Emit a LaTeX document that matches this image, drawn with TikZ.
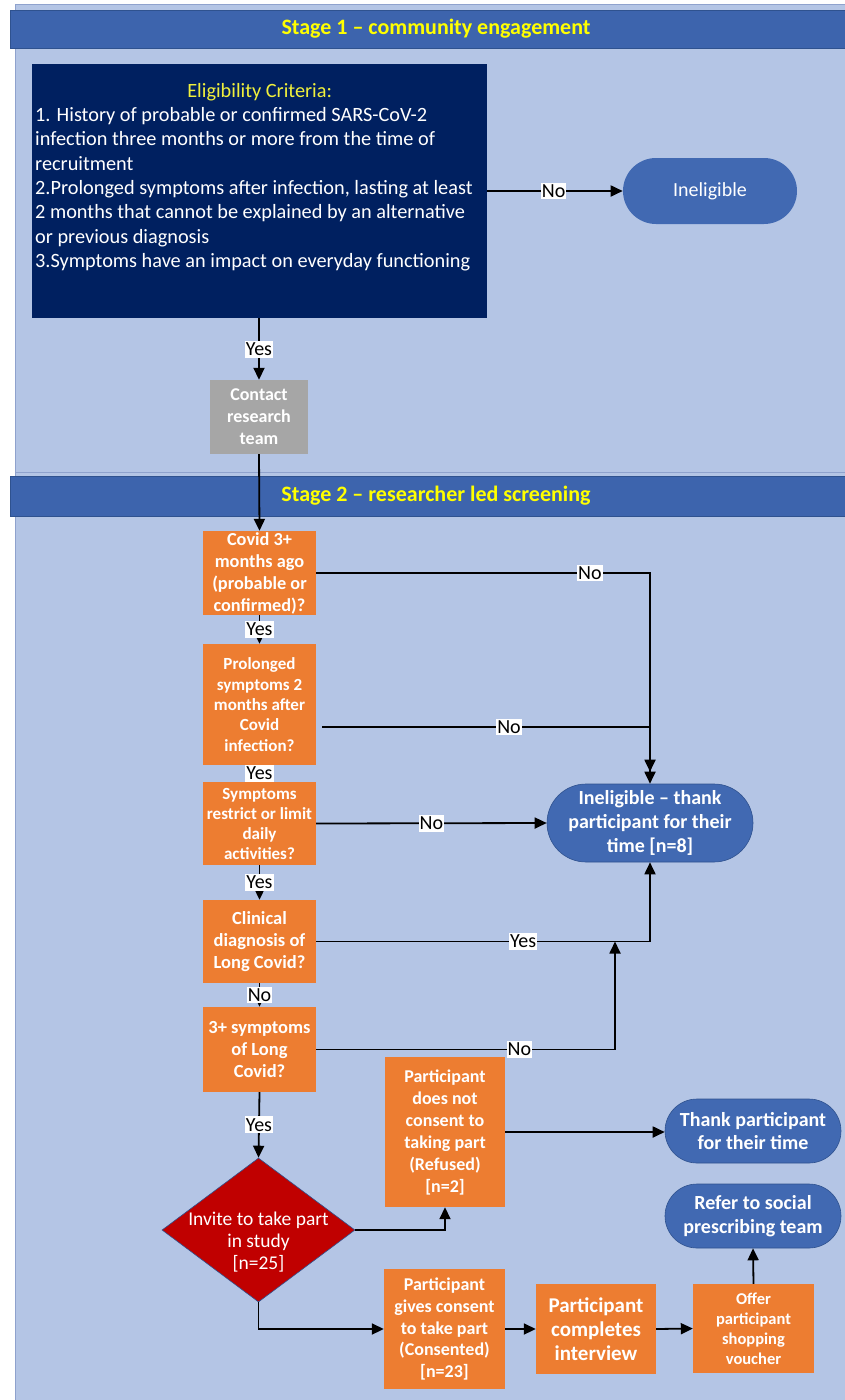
\documentclass[tikz,border=0pt]{standalone}
\usepackage{fontspec}
\setmainfont{Carlito}
\usetikzlibrary{shapes.geometric,arrows.meta}
\definecolor{panel}{HTML}{B4C5E5}
\definecolor{panelline}{HTML}{8FA2CD}
\definecolor{hdr}{HTML}{3D64AD}
\definecolor{hdrline}{HTML}{2F528F}
\definecolor{navy}{HTML}{002060}
\definecolor{orng}{HTML}{ED7D31}
\definecolor{bnode}{HTML}{4169B2}
\definecolor{graybox}{HTML}{A6A6A6}
\definecolor{dred}{HTML}{C00000}
\definecolor{hdrtext}{HTML}{FFFF00}
\definecolor{eligtitle}{HTML}{F0F03C}
\begin{document}
\begin{tikzpicture}[x=1pt,y=-1pt,
  obox/.style={rectangle, fill=orng, text=white, inner sep=0pt, align=center},
  bstad/.style={rectangle, fill=bnode, draw=hdrline, line width=0.6pt, text=white, inner sep=0pt, align=center},
  hdrbar/.style={rectangle, fill=hdr, draw=hdrline, line width=1pt, text=hdrtext, inner sep=0pt, font=\bfseries\fontsize{22}{24}\selectfont},
  lbl/.style={fill=white, text=black, inner xsep=1pt, inner ysep=2pt, font=\fontsize{20}{21}\selectfont},
  arr/.style={draw=black, line width=1.8pt, -{Triangle[length=12pt,width=11pt]}}]
\useasboundingbox (0,0) rectangle (845,1400);
\fill[white] (0,0) rectangle (845,1400);
\path[fill=panel, draw=panelline, line width=1pt] (15,4) rectangle (852,472);
\path[fill=panel, draw=panelline, line width=1pt] (15,472) rectangle (852,1406);
% headers
\node[hdrbar, minimum width=852pt, minimum height=38pt] (h1) at (436,29) {Stage 1 -- community engagement};
\node[hdrbar, minimum width=852pt, minimum height=40pt] (h2) at (436,496) {Stage 2 -- researcher led screening};
% stage 1
\node[fill=navy, text=white, inner xsep=3pt, inner ysep=5pt, anchor=north west] (elig) at (32,64)
 {\parbox[c][244pt][t]{449pt}{\fontsize{20.3}{24.3}\selectfont\vspace*{14pt}%
 {\centering\color{eligtitle}Eligibility Criteria:\par}%
 \raggedright
 1. History of probable or confirmed SARS-CoV-2\\
 infection three months or more from the time of\\
 recruitment\\
 2.Prolonged symptoms after infection, lasting at least\\
 2 months that cannot be explained by an alternative\\
 or previous diagnosis\\
 3.Symptoms have an impact on everyday functioning\par}};
\node[bstad, draw=none, rounded corners=33pt, minimum width=174pt, minimum height=66pt, font=\fontsize{20}{24}\selectfont] (inel1) at (710,191) {Ineligible};
\node[rectangle, fill=graybox, text=white, inner sep=0pt, align=center, font=\bfseries\fontsize{18}{22}\selectfont, minimum width=98pt, minimum height=74pt] (contact) at (259,417) {Contact\\research\\team};
% stage 2 column
\node[obox, minimum width=113pt, minimum height=84pt, font=\bfseries\fontsize{18.3}{22}\selectfont] (covid) at (259.5,573) {Covid 3+\\months ago\\(probable or\\confirmed)?};
\node[obox, minimum width=113pt, minimum height=121pt, font=\bfseries\fontsize{17}{20.3}\selectfont] (prol) at (259.5,704.5) {Prolonged\\symptoms 2\\months after\\Covid\\infection?};
\node[obox, minimum width=113pt, minimum height=83pt, font=\bfseries\fontsize{17}{20}\selectfont] (sympt) at (259.5,823.5) {Symptoms\\restrict or limit\\daily\\activities?};
\node[obox, minimum width=113pt, minimum height=83pt, font=\bfseries\fontsize{18.5}{22}\selectfont] (clin) at (259.5,941.5) {Clinical\\diagnosis of\\Long Covid?};
\node[obox, minimum width=113pt, minimum height=85pt, font=\bfseries\fontsize{18.5}{22}\selectfont] (three) at (259.5,1049.5) {3+ symptoms\\of Long\\Covid?};
\node[bstad, rounded corners=39pt, minimum width=206pt, minimum height=78pt, font=\bfseries\fontsize{20}{24}\selectfont] (inel2) at (650,823) {Ineligible -- thank\\participant for their\\time [n=8]};
\coordinate (join) at (615,941.5);
% bottom part
\node[diamond, fill=dred, draw=hdrline, line width=0.6pt, inner sep=0pt, aspect=1.34, minimum width=193pt, minimum height=144pt,
  label={[text=white, align=center, font=\fontsize{19.5}{22}\selectfont, yshift=-12pt]center:{Invite to take part\\in study\\{[n=25]}}}] (invite) at (258.5,1230) {};
\node[obox, minimum width=120pt, minimum height=150pt, font=\bfseries\fontsize{18}{22}\selectfont] (refused) at (445,1132) {Participant\\does not\\consent to\\taking part\\(Refused)\\{[n=2]}};
\node[bstad, rounded corners=32pt, minimum width=176pt, minimum height=64pt, font=\bfseries\fontsize{20}{23}\selectfont] (thank) at (753,1131) {Thank participant\\for their time};
\node[bstad, rounded corners=32pt, minimum width=176pt, minimum height=64pt, font=\bfseries\fontsize{20}{24}\selectfont] (refer) at (753,1216) {Refer to social\\prescribing team};
\node[obox, minimum width=121pt, minimum height=120pt, font=\bfseries\fontsize{18}{21.7}\selectfont] (consent) at (444.5,1329) {Participant\\gives consent\\to take part\\(Consented)\\{[n=23]}};
\node[obox, minimum width=120pt, minimum height=90pt, font=\bfseries\fontsize{21}{24}\selectfont] (interv) at (596,1329) {Participant\\completes\\interview};
\node[obox, minimum width=121pt, minimum height=89pt, font=\bfseries\fontsize{16.5}{20}\selectfont] (vouch) at (753.5,1328.5) {Offer\\participant\\shopping\\voucher};
% connectors stage 1
\draw[arr] (elig.east |- inel1) -- (inel1.west) node[lbl, pos=0.49] {No};
\draw[arr] (elig.south -| contact) -- (contact.north) node[lbl, midway] {Yes};
\draw[arr] (contact.south) -- (covid.north);
% connectors stage 2
\draw[arr] (covid.south) -- (prol.north) node[lbl, midway] {Yes};
\draw[arr] (prol.south) -- (sympt.north) node[lbl, midway] {Yes};
\draw[arr] (sympt.south) -- (clin.north) node[lbl, midway] {Yes};
\draw[arr] (clin.south) -- (three.north) node[lbl, midway] {No};
\draw[arr] (covid.east) -| (inel2.north) node[lbl, pos=0.41] {No};
\draw[arr, shorten >=12pt] ([xshift=6pt,yshift=-22.5pt]prol.east) -| (inel2.north) node[lbl, pos=0.285] {No};
\draw[arr] (sympt.east) -- (inel2.west) node[lbl, midway] {No};
\draw[arr] (clin.east) -| (inel2.south) node[lbl, pos=0.31] {Yes};
\draw[arr] (three.east) -| (join) node[lbl, pos=0.34] {No};
\draw[arr] (three.south) -- (invite.north) node[lbl, midway] {Yes};
\draw[arr] (invite.east) -| (refused.south);
\draw[arr] (refused.east) -- (refused.east -| thank.west);
\draw[arr] (invite.south) |- (consent.west);
\draw[arr] (consent.east) -- (interv.west);
\draw[arr] (interv.east) -- (vouch.west);
\draw[arr] (vouch.north) -- (refer.south);
\end{tikzpicture}
\end{document}
